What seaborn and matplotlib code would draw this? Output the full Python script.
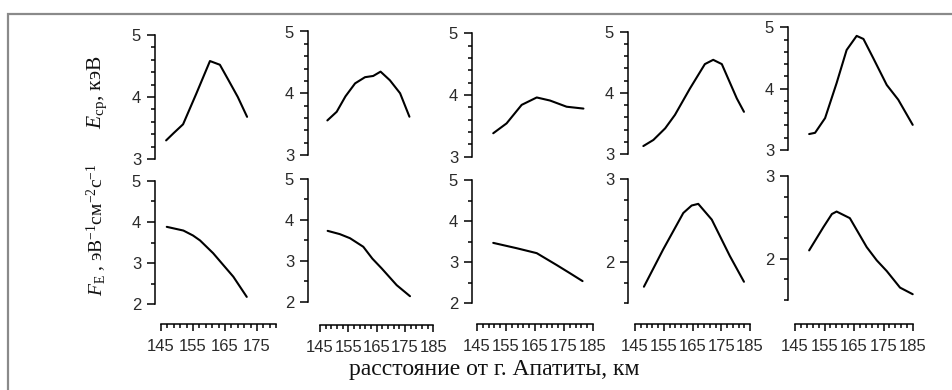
import matplotlib
matplotlib.use("Agg")
import matplotlib.pyplot as plt
import seaborn as sns
from matplotlib.ticker import MultipleLocator, FixedLocator
from matplotlib.patches import Rectangle

# ---------------- data ----------------
c1_E_x = [146.6, 149.0, 151.9, 156.0, 160.3, 163.4, 166.0, 169.0, 171.9]
c1_E_y = [3.30, 3.42, 3.56, 4.05, 4.58, 4.52, 4.28, 4.00, 3.68]
c1_F_x = [146.8, 152.0, 155.0, 157.2, 161.3, 164.5, 167.6, 171.8]
c1_F_y = [3.88, 3.79, 3.67, 3.55, 3.24, 2.95, 2.67, 2.18]

c2_E_x = [147.6, 150.9, 154.0, 157.4, 160.9, 163.8, 166.4, 169.7, 173.3, 176.6]
c2_E_y = [3.56, 3.70, 3.95, 4.16, 4.26, 4.28, 4.35, 4.21, 4.00, 3.62]
c2_F_x = [147.7, 152.0, 155.6, 160.3, 163.5, 166.8, 172.1, 176.8]
c2_F_y = [3.73, 3.65, 3.55, 3.34, 3.05, 2.81, 2.40, 2.13]

c3_E_x = [150.6, 155.2, 160.4, 165.6, 170.2, 175.9, 181.7]
c3_E_y = [3.38, 3.54, 3.84, 3.96, 3.91, 3.81, 3.78]
c3_F_x = [150.6, 158.7, 165.6, 172.5, 177.1, 181.4]
c3_F_y = [3.47, 3.34, 3.22, 2.93, 2.73, 2.54]

c4_E_x = [147.9, 151.4, 155.5, 158.9, 164.1, 169.3, 172.2, 175.2, 180.4, 182.9]
c4_E_y = [3.13, 3.23, 3.42, 3.64, 4.07, 4.47, 4.54, 4.47, 3.91, 3.69]
c4_F_x = [148.1, 154.8, 161.8, 164.7, 167.0, 171.7, 178.0, 182.9]
c4_F_y = [1.70, 2.15, 2.59, 2.68, 2.70, 2.51, 2.07, 1.76]

c5_E_x = [149.8, 151.8, 155.2, 159.1, 162.5, 165.9, 168.2, 171.5, 176.1, 180.0, 184.9]
c5_E_y = [3.26, 3.28, 3.52, 4.09, 4.63, 4.86, 4.81, 4.50, 4.06, 3.82, 3.41]
c5_F_x = [149.8, 154.6, 157.5, 159.1, 163.6, 169.3, 172.7, 176.1, 180.6, 184.9]
c5_F_y = [2.10, 2.38, 2.54, 2.57, 2.49, 2.14, 1.98, 1.85, 1.65, 1.57]

E_series = [(c1_E_x, c1_E_y), (c2_E_x, c2_E_y), (c3_E_x, c3_E_y),
            (c4_E_x, c4_E_y), (c5_E_x, c5_E_y)]
F_series = [(c1_F_x, c1_F_y), (c2_F_x, c2_F_y), (c3_F_x, c3_F_y),
            (c4_F_x, c4_F_y), (c5_F_x, c5_F_y)]

E_ylim = (3, 5)
F_ylims = [(2, 5), (2, 5), (2, 5), (1.5, 3), (1.5, 3)]
F_minor = [0.5, 0.5, 0.5, 0.25, 0.25]
ruler_end = [181, 185, 185, 185, 185]

xlabel_text = "расстояние от г. Апатиты, км"
E_label = r"$E_{\mathrm{ср}}$, кэВ"
F_label = r"$F_{\mathrm{E}}$ , эВ$^{-1}$см$^{-2}$с$^{-1}$"

# ---------------- layout (pixels) ----------------
W, H = 952, 390
spine_px = [155, 308, 472, 628, 788]
x145_px = [161, 320, 477, 635, 795]
px_per_km = [3.2, 2.83, 2.9, 2.875, 2.95]
top_row = [(35, 159), (31.5, 155), (33.3, 156.7), (31.7, 154), (27.3, 150)]
bot_row = [(180.7, 304.3), (179, 301.5), (180, 303.3), (179, 303.3), (176, 300)]
ruler_y = [324, 325, 324, 324, 324]

sns.set_theme(style="ticks")
plt.rcParams["font.family"] = ["Liberation Sans", "DejaVu Sans"]
plt.rcParams["mathtext.fontset"] = "custom"
plt.rcParams["mathtext.rm"] = "Liberation Serif"
plt.rcParams["mathtext.it"] = "Liberation Serif:italic"

fig = plt.figure(figsize=(W / 100, H / 100), dpi=100)
fig.patch.set_facecolor("white")

def add_ax(l, t, r, b):
    return fig.add_axes([l / W, 1 - b / H, (r - l) / W, (b - t) / H])

lw_sp = 1.1
tick_col = "#2a2a2a"
tick_fs = 12

def style_y(ax, ylim, major, minor):
    ax.set_ylim(*ylim)
    ax.yaxis.set_major_locator(MultipleLocator(major))
    ax.yaxis.set_minor_locator(MultipleLocator(minor))
    ax.tick_params(axis="y", which="major", direction="out", length=6, width=lw_sp,
                   labelsize=tick_fs, pad=4, colors="black", labelcolor=tick_col)
    ax.tick_params(axis="y", which="minor", direction="out", length=3, width=lw_sp,
                   colors="black")
    ax.spines["left"].set_linewidth(lw_sp)
    ax.spines["left"].set_color("black")
    for s in ("top", "right"):
        ax.spines[s].set_visible(False)
    ax.set_facecolor("none")
    ax.grid(False)
    ax.set_xlabel("")
    ax.set_ylabel("")

for i in range(5):
    left = spine_px[i]
    right = x145_px[i] + (ruler_end[i] - 145) * px_per_km[i] + 3
    xl = 145 - (x145_px[i] - left) / px_per_km[i]
    xr = 145 + (right - x145_px[i]) / px_per_km[i]

    # top row (E)
    t, b = top_row[i]
    ax = add_ax(left, t, right, b)
    sns.lineplot(x=E_series[i][0], y=E_series[i][1], ax=ax, color="black",
                 linewidth=1.5, estimator=None)
    ax.lines[-1].set_solid_joinstyle("round")
    ax.set_xlim(xl, xr)
    style_y(ax, E_ylim, 1, 0.2)
    ax.spines["bottom"].set_visible(False)
    ax.set_xticks([])

    # bottom row (F)
    t, b = bot_row[i]
    ax = add_ax(left, t, right, b)
    sns.lineplot(x=F_series[i][0], y=F_series[i][1], ax=ax, color="black",
                 linewidth=1.5, estimator=None)
    ax.lines[-1].set_solid_joinstyle("round")
    ax.set_xlim(xl, xr)
    style_y(ax, F_ylims[i], 1, F_minor[i])
    off = (ruler_y[i] - b) * 72 / 100
    ax.spines["bottom"].set_position(("outward", off))
    ax.spines["bottom"].set_bounds(145, ruler_end[i])
    ax.spines["bottom"].set_linewidth(lw_sp)
    ax.spines["bottom"].set_color("black")
    ax.xaxis.set_major_locator(FixedLocator(list(range(145, ruler_end[i] + 1, 10))))
    ax.xaxis.set_minor_locator(FixedLocator(list(range(145, ruler_end[i] + 1, 2))))
    ax.tick_params(axis="x", which="major", direction="out", length=5, width=lw_sp,
                   labelsize=tick_fs, pad=6, colors="black", labelcolor=tick_col)
    ax.tick_params(axis="x", which="minor", direction="out", length=3, width=lw_sp,
                   colors="black")

# row labels
fig.text(97 / W, 1 - 92 / H, E_label, rotation=90, ha="center", va="center",
         fontsize=15.5, family="Liberation Serif", color="#111111")
fig.text(97 / W, 1 - 230 / H, F_label, rotation=90, ha="center", va="center",
         fontsize=14, family="Liberation Serif", color="#111111")
# x label
fig.text(494 / W, 1 - 370 / H, xlabel_text, ha="center", va="center",
         fontsize=17, family="Liberation Serif", color="#111111")

# frame
fig.patches.append(Rectangle((7.5 / W, -0.1), 1.2, 1 - 14.3 / H + 0.1,
                             transform=fig.transFigure, fill=False,
                             edgecolor="#8a8a8a", linewidth=1.6, zorder=0))

fig.savefig("out.png", dpi=100, facecolor="white")
